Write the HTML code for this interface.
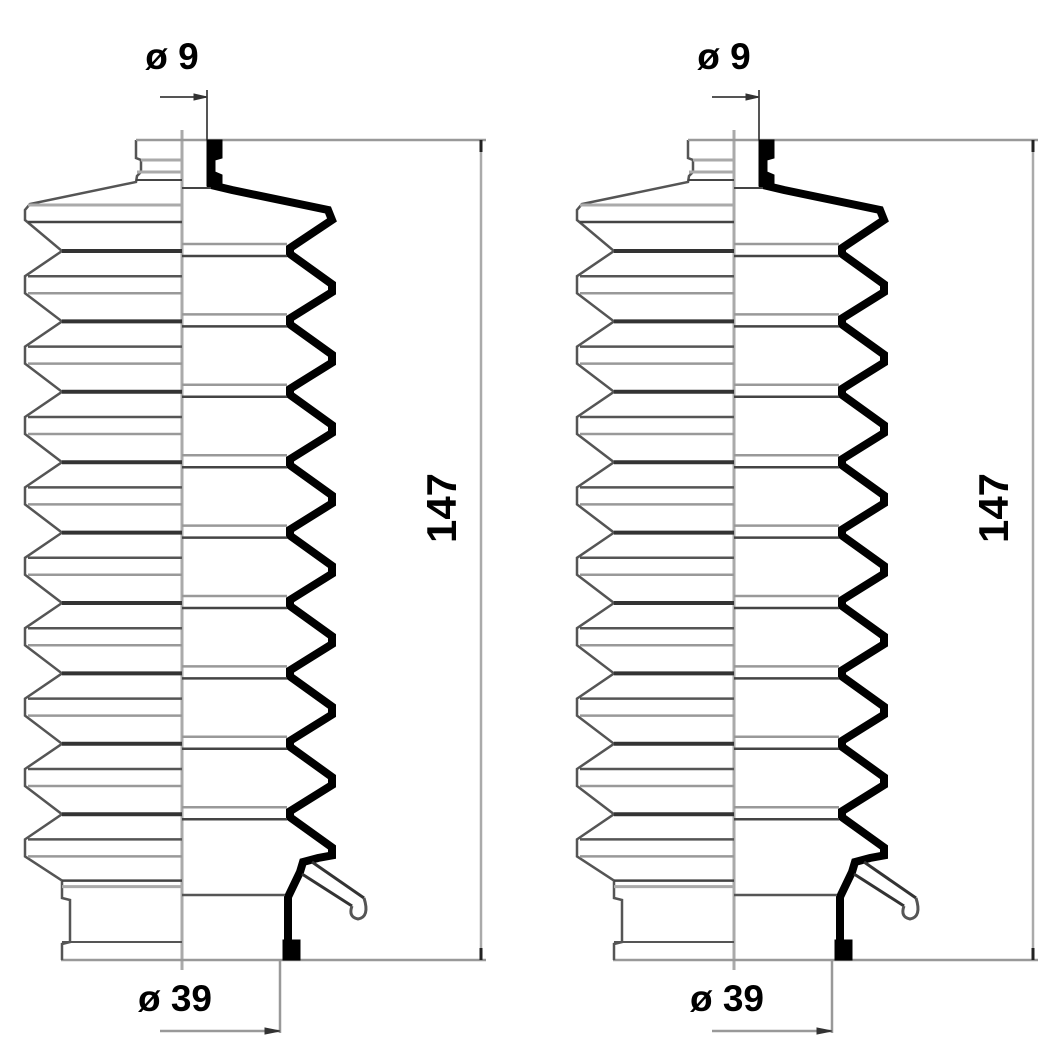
<!DOCTYPE html><html><head><style>body{margin:0;background:#fff}svg{display:block}text{font-family:"Liberation Sans",sans-serif;font-weight:bold;fill:#000}</style></head><body>
<svg id="s" width="1060" height="1060" viewBox="0 0 1060 1060" xmlns="http://www.w3.org/2000/svg">
<g id="b" fill="none" stroke-linejoin="miter"></g>
<use href="#b" x="552"/>
<text x="172" y="69" font-size="37" text-anchor="middle">ø 9</text>
<text x="724" y="69" font-size="37" text-anchor="middle">ø 9</text>
<text x="175" y="1011" font-size="37" text-anchor="middle">ø 39</text>
<text x="727" y="1011" font-size="37" text-anchor="middle">ø 39</text>
<text x="0" y="0" font-size="42" text-anchor="middle" transform="translate(456,508) rotate(-90)">147</text>
<text x="0" y="0" font-size="42" text-anchor="middle" transform="translate(1008,508) rotate(-90)">147</text>
</svg>
<script>
var g=document.getElementById('b'),h='';
function L(x1,y1,x2,y2,c,w){h+='<line x1="'+x1+'" y1="'+y1+'" x2="'+x2+'" y2="'+y2+'" stroke="'+c+'" stroke-width="'+w+'"/>';}
function P(d,c,w,f){h+='<path d="'+d+'" stroke="'+c+'" stroke-width="'+w+'" fill="'+(f||'none')+'"/>';}
var CX=182,p=70.4,t0=251;
L(CX,130,CX,970,'#aaa',3);
L(136,140,486,140,'#999',2.5);
L(481,140,481,960,'#aaa',2.5);
L(61,960,486,960,'#999',2.5);
L(207,90,207,140,'#555',2);L(160,97,207,97,'#555',2);P('M194,94 L207,97 L194,100Z','#333',1,'#333');
L(280,960,280,1033,'#999',2.5);L(160,1031,280,1031,'#999',2.5);P('M265,1028 L280,1031 L265,1034Z','#333',1,'#333');
L(481,140,481,152,'#222',3);L(481,948,481,960,'#222',3);
var d='M136,140 L136,158 L141,160 L141,172 L137,176 L136,182 L30,204 L25,210 L25,220';
for(var k=0;k<9;k++){var ty=t0+p*k;d+=' L62,'+ty+' L25,'+(ty+p/2-10)+' L25,'+(ty+p/2+7);}
var lt=t0+p*9-4;d+=' L62,'+lt+' L62,898 L70,900 L70,942 L62,944 L62,960';
P(d,'#555',2.5);
L(136,140,CX,140,'#999',2);L(141,160,CX,160,'#aaa',3);L(137,172,CX,172,'#aaa',3);L(136,180,CX,180,'#444',2);
L(28,205,CX,205,'#aaa',3);L(28,222,CX,222,'#444',2.5);
for(var k=0;k<9;k++){var ty=t0+p*k;L(62,ty,CX,ty,'#333',4);L(28,ty+p/2-10,CX,ty+p/2-10,'#555',2.5);L(28,ty+p/2+7,CX,ty+p/2+7,'#999',2.5);}
L(62,lt,CX,lt,'#444',2.5);L(62,lt+6,CX,lt+6,'#aaa',3);L(62,942,CX,942,'#555',2);
P('M207,140 L222,140 L222,158 L215,160 L215,172 L222,175 L222,184 L207,186Z','#000',1,'#000');
var r='M211,140 L211,185 L232,190 L328,210 L332,220';
for(var k=0;k<9;k++){var ty=t0+p*k;r+=' L290,'+(ty-3)+' L290,'+(ty+3)+' L332,'+(ty+p/2-2)+' L332,'+(ty+p/2+6);}
r+=' L318,858 L303,862 L300,872 L288,897 L288,945';
P(r,'#000',8);
P('M283,940 L300,940 L300,960 L283,960Z','#000',1,'#000');
L(CX,188,211,188,'#444',2);
for(var k=0;k<9;k++){var ty=t0+p*k;L(CX,ty-7,287,ty-7,'#999',2.5);L(CX,ty+5,287,ty+5,'#444',2.5);}
L(CX,895,285,895,'#555',2.5);
P('M302,874 L352,906','#333',3);P('M312,862 L364,898','#333',3);
P('M352,906 Q348,917 358,919 Q370,917 364,898','#555',3);
g.innerHTML=h;
</script>
</body></html>
